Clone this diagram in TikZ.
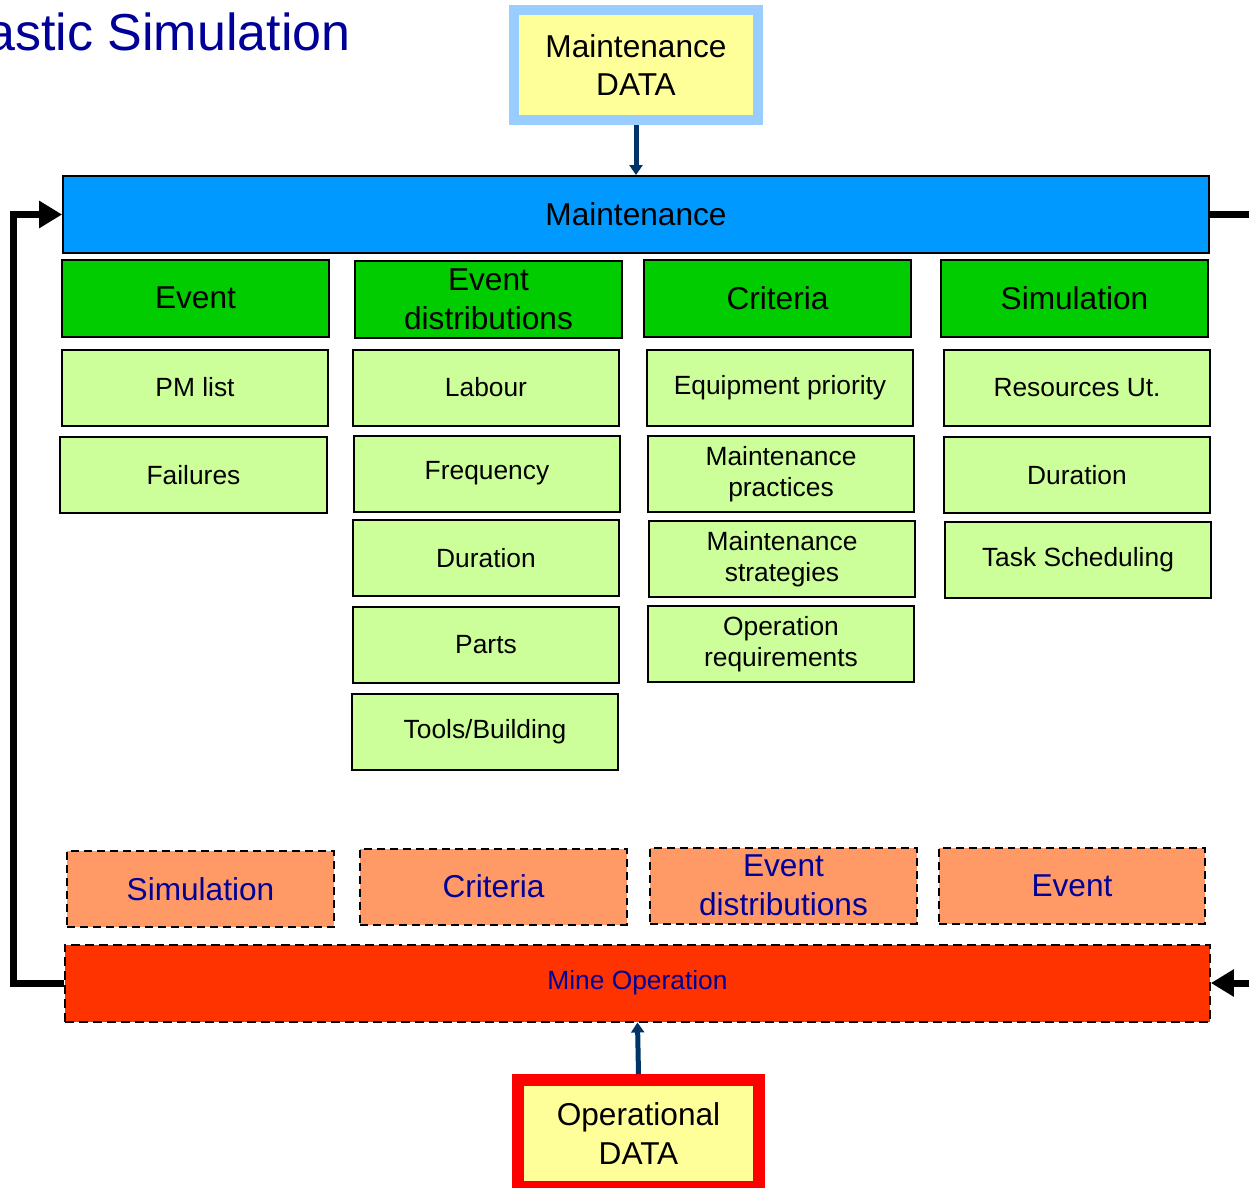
\documentclass[tikz,border=0pt]{standalone}
\usepackage{fontspec}
\setmainfont{Liberation Sans}
\usetikzlibrary{arrows.meta}

\definecolor{navy}{HTML}{000099}
\definecolor{darrow}{HTML}{003366}
\definecolor{mbar}{HTML}{0099FF}
\definecolor{ghead}{HTML}{00CC00}
\definecolor{gbox}{HTML}{CCFF99}
\definecolor{obox}{HTML}{FF9966}
\definecolor{rbar}{HTML}{FF3300}
\definecolor{ydata}{HTML}{FFFF99}
\definecolor{bframe}{HTML}{99CCFF}
\definecolor{rframe}{HTML}{FF0000}

\newcommand{\bigtxt}{\fontsize{18}{22}\selectfont}
\newcommand{\smalltxt}{\fontsize{15}{18}\selectfont}

\begin{document}
\begin{tikzpicture}[x=0.02cm, y=-0.02cm,
    databox/.style={rectangle, fill=ydata, line width=0.2cm, minimum width=4.9cm,
        minimum height=2.2cm, align=center, font=\bigtxt, inner sep=0pt},
    bar/.style={rectangle, draw=black, line width=0.04cm, minimum width=22.92cm,
        minimum height=1.54cm, inner sep=0pt},
    headbox/.style={rectangle, draw=black, fill=ghead, line width=0.04cm,
        minimum width=5.34cm, minimum height=1.54cm, align=center, font=\bigtxt, inner sep=0pt},
    itembox/.style={rectangle, draw=black, fill=gbox, line width=0.04cm,
        minimum width=5.34cm, minimum height=1.52cm, align=center, font=\smalltxt, inner sep=0pt},
    opbox/.style={rectangle, draw=black, fill=obox, line width=0.04cm, dash pattern=on 0.16cm off 0.1cm,
        minimum width=5.34cm, minimum height=1.52cm, align=center, font=\bigtxt, text=navy, inner sep=0pt},
    datalink/.style={draw=darrow, line width=0.1cm, -{Triangle[length=0.2cm,width=0.26cm]}},
    loopline/.style={draw=black, line width=0.14cm}]

    \useasboundingbox (0,0) rectangle (1249,1188);

    % title
    \node[anchor=base west, inner sep=0pt, text=navy, font=\fontsize{29.6}{36}\selectfont]
        (title) at (-14,50) {astic Simulation};

    % Maintenance side
    \node[databox, draw=bframe] (mdata) at (636,65) {Maintenance\\DATA};
    \node[bar, fill=mbar, font=\bigtxt] (maint) at (636,214.5) {Maintenance};
    \draw[datalink] (mdata.south) -- (maint.north);

    \node[headbox] (hevent) at (195.5,298) {Event};
    \node[headbox] (hdist) at (488.5,299) {Event\\distributions};
    \node[headbox] (hcrit) at (777.5,298) {Criteria};
    \node[headbox] (hsim) at (1074.5,298) {Simulation};

    \node[itembox] (pm) at (195,387.5) {PM list};
    \node[itembox] (fail) at (193.5,475) {Failures};

    \node[itembox] (labour) at (486,387.5) {Labour};
    \node[itembox] (freq) at (487,473.5) {Frequency};
    \node[itembox] (dur) at (486,558) {Duration};
    \node[itembox] (parts) at (486,644.5) {Parts};
    \node[itembox] (tools) at (485,732) {Tools/Building};

    \node[itembox] (equip) at (780,387.5) {Equipment priority};
    \node[itembox] (pract) at (781,474) {Maintenance\\practices};
    \node[itembox] (strat) at (782,559) {Maintenance\\strategies};
    \node[itembox] (oreq) at (781,644) {Operation\\requirements};

    \node[itembox] (res) at (1077,388) {Resources Ut.};
    \node[itembox] (sdur) at (1077,475) {Duration};
    \node[itembox] (task) at (1078,560) {Task Scheduling};

    % Operation side
    \node[opbox] (osim) at (200.5,889) {Simulation};
    \node[opbox] (ocrit) at (493.5,886.5) {Criteria};
    \node[opbox] (odist) at (783.5,885.5) {Event\\distributions};
    \node[opbox] (oevent) at (1072,885.5) {Event};

    \node[bar, fill=rbar, dash pattern=on 0.18cm off 0.1cm, minimum width=22.9cm,
        text=navy, font=\smalltxt] (mine) at (637.5,983) {Mine Operation};
    \node[databox, draw=rframe, line width=0.24cm, minimum width=4.82cm,
        minimum height=2.14cm] (odata) at (638.5,1133.5) {Operational\\DATA};
    \draw[datalink] (odata.north) -- (mine.south);

    % feedback loop
    \coordinate (rout) at (1260,214.5);
    \coordinate (rin) at (1260,983);
    \draw[loopline] (maint.east) -- (rout);
    \draw[loopline, -{Triangle[length=0.46cm,width=0.52cm]}] (rin) -- (mine.east);
    \draw[loopline, -{Triangle[length=0.46cm,width=0.52cm]}]
        (mine.west) -- ++(-51,0) |- (maint.west);
\end{tikzpicture}
\end{document}
